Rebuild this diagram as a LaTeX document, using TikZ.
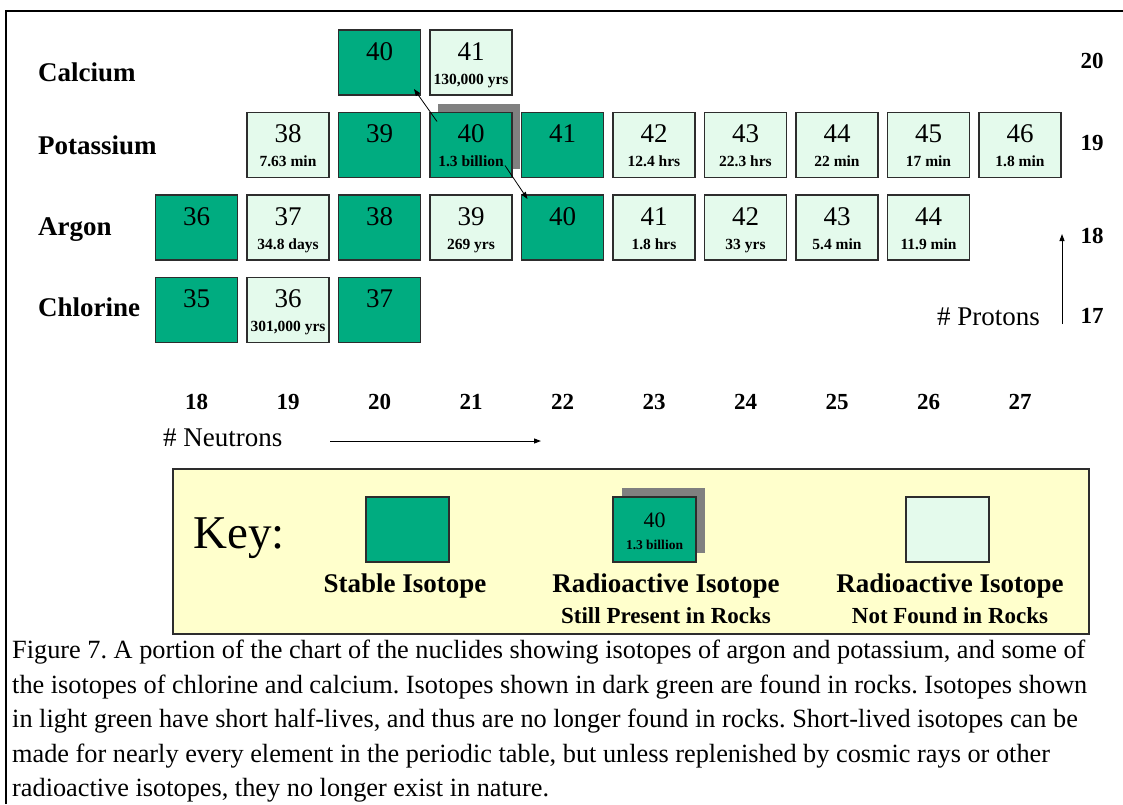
\documentclass[tikz,border=0pt]{standalone}
\usepackage{fontspec}
\setmainfont{Liberation Serif}
\usetikzlibrary{arrows.meta,calc,shadows}

\definecolor{dkgreen}{RGB}{0,172,128}
\definecolor{ltgreen}{RGB}{228,250,236}
\definecolor{keyyellow}{RGB}{255,255,204}
\definecolor{shadowgray}{RGB}{128,128,128}
\definecolor{boxline}{RGB}{45,45,45}

\newcommand\isobody[2]{\vbox to 65pt{\offinterlineskip\hsize=82pt
 \vskip 30pt
 \hbox to 82pt{\hss\smash{\fontsize{27}{27}\selectfont #1}\hss}%
 \vskip 24pt
 \hbox to 82pt{\hss\smash{\fontsize{15.5}{15.5}\selectfont\bfseries #2}\hss}%
 \vss}}
\newcommand\keybody[2]{\vbox to 65pt{\offinterlineskip\hsize=83pt
 \vskip 30pt
 \hbox to 83pt{\hss\smash{\fontsize{22}{22}\selectfont #1}\hss}%
 \vskip 22pt
 \hbox to 83pt{\hss\smash{\fontsize{13.5}{13.5}\selectfont\bfseries #2}\hss}%
 \vss}}

\begin{document}
\begin{tikzpicture}[x=1pt,y=-1pt,
  iso/.style={draw=boxline, line width=1.1pt, inner sep=0pt, outer sep=0pt},
  stable/.style={iso, fill=dkgreen},
  radio/.style={iso, fill=ltgreen},
  present/.style={stable, drop shadow={shadow xshift=8pt, shadow yshift=9pt, fill=shadowgray, opacity=1}},
  rowlabel/.style={anchor=base west, inner sep=0pt, font=\fontsize{27}{27}\selectfont\bfseries},
  znum/.style={anchor=base, inner sep=0pt, font=\fontsize{23}{23}\selectfont\bfseries},
  nnum/.style={anchor=base, inner sep=0pt, font=\fontsize{23}{23}\selectfont\bfseries},
  axislabel/.style={inner sep=0pt, font=\fontsize{27}{27}\selectfont},
  decay/.style={line width=0.8pt, -{Triangle[length=7pt,width=5pt]}},
  axisarrow/.style={line width=1pt, -{Triangle[length=7pt,width=5pt]}},
  keyhead/.style={anchor=base, inner sep=0pt, font=\fontsize{27}{27}\selectfont\bfseries},
  keysub/.style={anchor=base, inner sep=0pt, font=\fontsize{23}{23}\selectfont\bfseries},
  keybox/.style={draw=boxline, line width=1.2pt, inner sep=0pt, minimum width=83pt, minimum height=65pt}
]
\useasboundingbox (0,0) rectangle (1123,804);
\fill[white] (0,0) rectangle (1123,804);

% frame
\draw[line width=2pt] (5.5,804) -- (5.5,10.5) -- (1123,10.5);

% row labels
\node[rowlabel] (lCa) at (38,81) {Calcium};
\node[rowlabel] (lK) at (38,154) {Potassium};
\node[rowlabel] (lAr) at (38,235) {Argon};
\node[rowlabel] (lCl) at (38,316) {Chlorine};

% calcium
\node[stable] (Ca40) at (379.5,62.5) {\isobody{40}{}};
\node[radio] (Ca41) at (471,62.5) {\isobody{41}{130,000 yrs}};
% potassium
\node[radio] (K38) at (288,145) {\isobody{38}{7.63 min}};
\node[stable] (K39) at (379.5,145) {\isobody{39}{}};
\node[present] (K40) at (471,145) {\isobody{40}{1.3 billion}};
\node[stable] (K41) at (562.5,145) {\isobody{41}{}};
\node[radio] (K42) at (654,145) {\isobody{42}{12.4 hrs}};
\node[radio] (K43) at (745.5,145) {\isobody{43}{22.3 hrs}};
\node[radio] (K44) at (837,145) {\isobody{44}{22 min}};
\node[radio] (K45) at (928.5,145) {\isobody{45}{17 min}};
\node[radio] (K46) at (1020,145) {\isobody{46}{1.8 min}};
% argon
\node[stable] (Ar36) at (196.5,227.5) {\isobody{36}{}};
\node[radio] (Ar37) at (288,227.5) {\isobody{37}{34.8 days}};
\node[stable] (Ar38) at (379.5,227.5) {\isobody{38}{}};
\node[radio] (Ar39) at (471,227.5) {\isobody{39}{269 yrs}};
\node[stable] (Ar40) at (562.5,227.5) {\isobody{40}{}};
\node[radio] (Ar41) at (654,227.5) {\isobody{41}{1.8 hrs}};
\node[radio] (Ar42) at (745.5,227.5) {\isobody{42}{33 yrs}};
\node[radio] (Ar43) at (837,227.5) {\isobody{43}{5.4 min}};
\node[radio] (Ar44) at (928.5,227.5) {\isobody{44}{11.9 min}};
% chlorine
\node[stable] (Cl35) at (196.5,310) {\isobody{35}{}};
\node[radio] (Cl36) at (288,310) {\isobody{36}{301,000 yrs}};
\node[stable] (Cl37) at (379.5,310) {\isobody{37}{}};

% decay arrows
\draw[decay] ($(K40.north west)+(7,9)$) -- ($(Ca40.south east)+(-6.5,-6)$);
\draw[decay] ($(K40.south east)+(-7,-12)$) -- ($(Ar40.north west)+(6,4)$);

% proton numbers
\node[znum] (z20) at (1092,68) {20};
\node[znum] (z19) at (1092,150) {19};
\node[znum] (z18) at (1092,243) {18};
\node[znum] (z17) at (1092,323) {17};
\node[axislabel, anchor=base east] (protons) at (1040,325) {\# Protons};
\coordinate (pA) at (1062,324);
\coordinate (pB) at (1062,234);
\draw[axisarrow] (pA) -- (pB);

% neutron numbers
\foreach \n [count=\i from 0] in {18,...,27}{
  \node[nnum] (n\n) at ({196.5+91.5*\i},409) {\n};
}
\node[axislabel, anchor=base west] (neutrons) at (163,446) {\# Neutrons};
\coordinate (nA) at (330,441);
\coordinate (nB) at (541,441);
\draw[axisarrow] (nA) -- (nB);

% key
\node[draw=boxline, line width=1.2pt, fill=keyyellow, minimum width=916pt, minimum height=165pt, inner sep=0pt] (key) at (631,551.5) {};
\node[anchor=base west, inner sep=0pt, font=\fontsize{47}{47}\selectfont] (keytitle) at (193,548) {Key:};
\node[keybox, fill=dkgreen] (kstable) at (407.5,529.5) {};
\node[keyhead] (kstableT) at (405,592) {Stable Isotope};
\node[keybox, fill=dkgreen, drop shadow={shadow xshift=9pt, shadow yshift=9pt, fill=shadowgray, opacity=1}] (kpresent) at (654.5,529.5) {\keybody{40}{1.3 billion}};
\node[keyhead] (kpresentT) at (666,592) {Radioactive Isotope};
\node[keysub] (kpresentS) at (666,623) {Still Present in Rocks};
\node[keybox, fill=ltgreen] (kgone) at (947.5,529.5) {};
\node[keyhead] (kgoneT) at (950,592) {Radioactive Isotope};
\node[keysub] (kgoneS) at (950,623) {Not Found in Rocks};

% caption
\node[anchor=north west, inner sep=0pt, align=left, font=\fontsize{26.3}{34.5}\selectfont\frenchspacing] (caption) at (12,640)
{Figure 7. A portion of the chart of the nuclides showing isotopes of argon and potassium, and some of\\
the isotopes of chlorine and calcium. Isotopes shown in dark green are found in rocks. Isotopes shown\\
in light green have short half-lives, and thus are no longer found in rocks. Short-lived isotopes can be\\
made for nearly every element in the periodic table, but unless replenished by cosmic rays or other\\
radioactive isotopes, they no longer exist in nature.};
\end{tikzpicture}
\end{document}
